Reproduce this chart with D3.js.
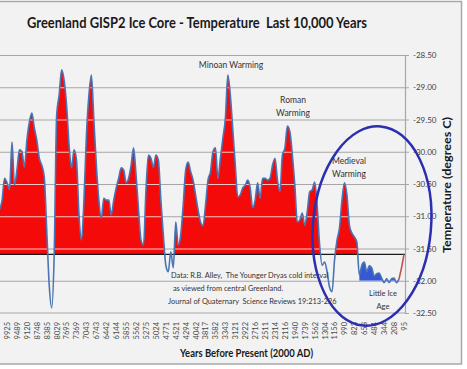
<!DOCTYPE html>
<html>
<head>
<meta charset="utf-8">
<script src="https://cdn.jsdelivr.net/npm/d3@7"></script>
<style>
  body { margin: 0; background: #fff; }
  text { font-family: Lato, "Open Sans", sans-serif; white-space: pre; }
</style>
</head>
<body>
<div id="chart"></div>
<script>
// temperature (deg C), left (oldest) to right (newest)
var temps = [
  -30.90, -30.75, -30.41, -30.48, -30.59, -29.85, -30.52, -30.28, -29.97, -30.00,
  -30.24, -29.82, -29.54, -29.40, -29.63, -29.82, -30.10, -30.21, -30.39, -31.21,
  -32.07, -32.42, -31.60, -29.43, -29.12, -28.73, -28.89, -29.28, -29.90, -30.25,
  -29.97, -30.13, -30.98, -31.37, -30.75, -29.74, -29.12, -28.81, -29.51, -30.21,
  -30.75, -31.03, -30.72, -30.75, -30.75, -30.98, -30.75, -30.56, -30.41, -30.25,
  -30.28, -30.48, -30.41, -30.21, -29.94, -30.36, -30.90, -31.37, -31.45, -30.59,
  -30.05, -30.10, -30.24, -30.05, -30.13, -30.75, -31.29, -31.76, -31.86, -31.55,
  -31.80, -31.09, -31.45, -31.29, -30.83, -30.28, -30.16, -30.31, -30.44, -30.67,
  -30.90, -31.09, -31.15, -30.83, -30.44, -30.31, -30.00, -29.94, -30.41, -30.10,
  -29.79, -29.48, -28.81, -29.12, -29.66, -30.21, -30.70, -30.67, -30.56, -30.52,
  -30.44, -30.56, -30.87, -30.75, -30.48, -30.72, -30.41, -30.41, -30.44, -30.41,
  -30.21, -30.10, -30.44, -30.62, -30.05, -29.94, -29.60, -29.69, -30.05, -30.52,
  -31.09, -31.06, -30.95, -31.14, -30.93, -30.62, -30.59, -30.47, -30.83, -31.45,
  -31.76, -31.71, -31.86, -32.10, -32.17, -31.68, -31.37, -31.18, -30.75, -30.48,
  -30.67, -31.14, -31.26, -31.32, -31.40, -31.91, -31.76, -31.71, -31.86, -31.77,
  -31.80, -31.93, -31.89, -31.88, -31.96, -32.03, -31.97, -32.03, -31.97, -31.96,
  -32.03, -31.97, -31.80, -31.59
];

// years shown under the axis (every 4th point, starting at point 3)
var yearLabels = ["9925", "9489", "9120", "8748", "8385", "8029", "7695", "7369", "7043", "6743",
  "6442", "6144", "5855", "5562", "5275", "5024", "4771", "4521", "4294", "4042",
  "3817", "3582", "3343", "3121", "2922", "2716", "2511", "2314", "2116", "1940",
  "1739", "1562", "1304", "1156", "990", "823", "658", "484", "344", "208", "95"];

var tempTicks = [-28.5, -29.0, -29.5, -30.0, -30.5, -31.0, -31.5, -32.0, -32.5];
var baseTemp = -31.59;      // long-term mean, red fill starts here
var littleIce = [145, 161]; // points of the blue "Little Ice Age" stretch

var annotations = [
  { lines: ["Minoan Warming"], x: 231, y: 68 },
  { lines: ["Roman", "Warming"], x: 293, y: 103 },
  { lines: ["Medieval", "Warming"], x: 349, y: 164 },
  { lines: ["Little Ice", "Age"], x: 383, y: 296, size: 7.5 }
];
var sourceLines = ["Data: R.B. Alley,  The Younger Dryas cold interval",
  " as viewed from central Greenland.",
  "Journal of Quaternary  Science Reviews 19:213-226"];

var W = 467, H = 369;
var plot = { left: 0, right: 405, top: 55, bottom: 313 };

var svg = d3.select("#chart").append("svg")
  .attr("width", W).attr("height", H);

svg.append("rect").attr("x", 0).attr("y", 0).attr("width", W).attr("height", H).attr("fill", "#fff");
svg.append("rect").attr("x", -1).attr("y", 1.5).attr("width", 462.5).attr("height", 362.5)
  .attr("fill", "#f2f2f2").attr("stroke", "#a8a8a8").attr("stroke-width", 1.5);

var xScale = d3.scaleLinear().domain([0, temps.length - 1]).range([-0.4, 404]);
var yScale = d3.scaleLinear().domain([-32.5, -28.5]).range([plot.bottom, plot.top]);

var defs = svg.append("defs");
defs.append("clipPath").attr("id", "above")
  .append("rect").attr("x", -5).attr("y", plot.top).attr("width", plot.right + 5)
  .attr("height", yScale(baseTemp) - plot.top);
defs.append("clipPath").attr("id", "iceband")
  .append("rect").attr("x", -5).attr("y", yScale(baseTemp))
  .attr("width", plot.right + 5).attr("height", yScale(-32.0) - yScale(baseTemp));

// grey gridlines
svg.append("g").selectAll("line").data(tempTicks.slice(0, -1)).enter().append("line")
  .attr("x1", plot.left).attr("x2", plot.right)
  .attr("y1", function (d) { return yScale(d) + 0.5; })
  .attr("y2", function (d) { return yScale(d) + 0.5; })
  .attr("stroke", "#a6a6a6").attr("stroke-width", 1.2);

var curve = d3.curveMonotoneX;

// red area above the mean
var redArea = d3.area()
  .x(function (d, i) { return xScale(i); })
  .y0(yScale(baseTemp))
  .y1(function (d) { return yScale(d); })
  .curve(curve);
svg.append("path").datum(temps).attr("d", redArea)
  .attr("fill", "#f50a0a").attr("clip-path", "url(#above)");

// light gridlines show through the red fill
defs.append("clipPath").attr("id", "redclip")
  .append("path").datum(temps).attr("d", redArea);
var over = svg.append("g").attr("clip-path", "url(#above)")
  .append("g").attr("clip-path", "url(#redclip)");
over.selectAll("line").data(tempTicks.slice(0, -1)).enter().append("line")
  .attr("x1", plot.left).attr("x2", plot.right)
  .attr("y1", function (d) { return yScale(d) + 0.5; })
  .attr("y2", function (d) { return yScale(d) + 0.5; })
  .attr("stroke", "#ffc4c4").attr("stroke-width", 1.2);

// blue fill for the little ice age
var iceIdx = d3.range(littleIce[0], littleIce[1] + 1);
var blueArea = d3.area()
  .x(function (i) { return xScale(i); })
  .y0(yScale(-32.0))
  .y1(function (i) { return yScale(temps[i]); })
  .curve(curve);
svg.append("path").datum(iceIdx).attr("d", blueArea)
  .attr("fill", "#3558d4").attr("clip-path", "url(#iceband)");

// mean line
svg.append("line")
  .attr("x1", plot.left).attr("x2", plot.right)
  .attr("y1", yScale(baseTemp)).attr("y2", yScale(baseTemp))
  .attr("stroke", "#1a1a1a").attr("stroke-width", 1.3);

// temperature line
var line = d3.line()
  .x(function (i) { return xScale(i); })
  .y(function (i) { return yScale(temps[i]); })
  .curve(curve);
var n = temps.length;
svg.append("path").datum(d3.range(0, n - 2)).attr("d", line)
  .attr("fill", "none").attr("stroke", "#4a74b4").attr("stroke-width", 1.6);
svg.append("path").datum(d3.range(n - 3, n)).attr("d", d3.line()
    .x(function (i) { return xScale(i); })
    .y(function (i) { return yScale(temps[i]); }))
  .attr("fill", "none").attr("stroke", "#c0504d").attr("stroke-width", 1.6);

// plot frame: right axis and bottom line
svg.append("line").attr("x1", plot.left).attr("x2", plot.right)
  .attr("y1", plot.bottom).attr("y2", plot.bottom).attr("stroke", "#a6a6a6").attr("stroke-width", 1.2);

var yAxis = d3.axisRight(yScale).tickValues(tempTicks)
  .tickFormat(function (d) { return d.toFixed(2); }).tickSize(4).tickPadding(4);
var gy = svg.append("g").attr("transform", "translate(" + plot.right + ",0)").call(yAxis);
gy.select(".domain").attr("stroke", "#a6a6a6").attr("stroke-width", 1.2);
gy.selectAll(".tick line").attr("stroke", "#a6a6a6");
gy.selectAll("text").attr("fill", "#404040").style("font-size", "8px")
  .style("font-family", "'Liberation Sans Narrow', Lato, sans-serif");

var xAxis = d3.axisBottom(xScale)
  .tickValues(yearLabels.map(function (d, j) { return 3 + 4 * j; }))
  .tickFormat(function (d) { return yearLabels[(d - 3) / 4]; })
  .tickSize(0);
var gx = svg.append("g").attr("transform", "translate(0," + plot.bottom + ")").call(xAxis);
gx.select(".domain").remove();
gx.selectAll("text")
  .attr("transform", "rotate(-90)")
  .attr("x", -9).attr("y", 0).attr("dy", "0.32em")
  .style("text-anchor", "end")
  .attr("fill", "#4a4a4a").style("font-size", "7.5px");

// titles
svg.append("text").attr("x", 27).attr("y", 28)
  .attr("textLength", 340).attr("lengthAdjust", "spacingAndGlyphs")
  .style("font-size", "14.5px").style("font-weight", "bold").attr("fill", "#1a1a1a")
  .text("Greenland GISP2 Ice Core - Temperature  Last 10,000 Years");

svg.append("text").attr("x", 180).attr("y", 357)
  .attr("textLength", 133).attr("lengthAdjust", "spacingAndGlyphs")
  .style("font-size", "12px").style("font-weight", "bold").attr("fill", "#1a1a1a")
  .text("Years Before Present (2000 AD)");

svg.append("text").attr("transform", "translate(451,185) rotate(-90)")
  .attr("text-anchor", "middle")
  .attr("textLength", 136).attr("lengthAdjust", "spacingAndGlyphs")
  .style("font-size", "11px").style("font-weight", "bold").attr("fill", "#1a1a1a")
  .text("Temperature (degrees C)");

// period notes
annotations.forEach(function (a) {
  a.lines.forEach(function (t, k) {
    svg.append("text").attr("x", a.x).attr("y", a.y + k * 13)
      .attr("text-anchor", "middle")
      .style("font-size", (a.size || 8.5) + "px").attr("fill", "#333")
      .text(t);
  });
});

sourceLines.forEach(function (t, k) {
  svg.append("text").attr("x", k === 2 ? 168 : 171).attr("y", 278 + k * 13)
    .style("font-size", "7.4px").attr("fill", "#333")
    .text(t);
});

// blue ring around the last thousand years
svg.append("ellipse").attr("cx", 372).attr("cy", 226).attr("rx", 59).attr("ry", 100)
  .attr("transform", "rotate(5,372,226)")
  .attr("fill", "none").attr("stroke", "#2b2fb0").attr("stroke-width", 2.5);
</script>
</body>
</html>
